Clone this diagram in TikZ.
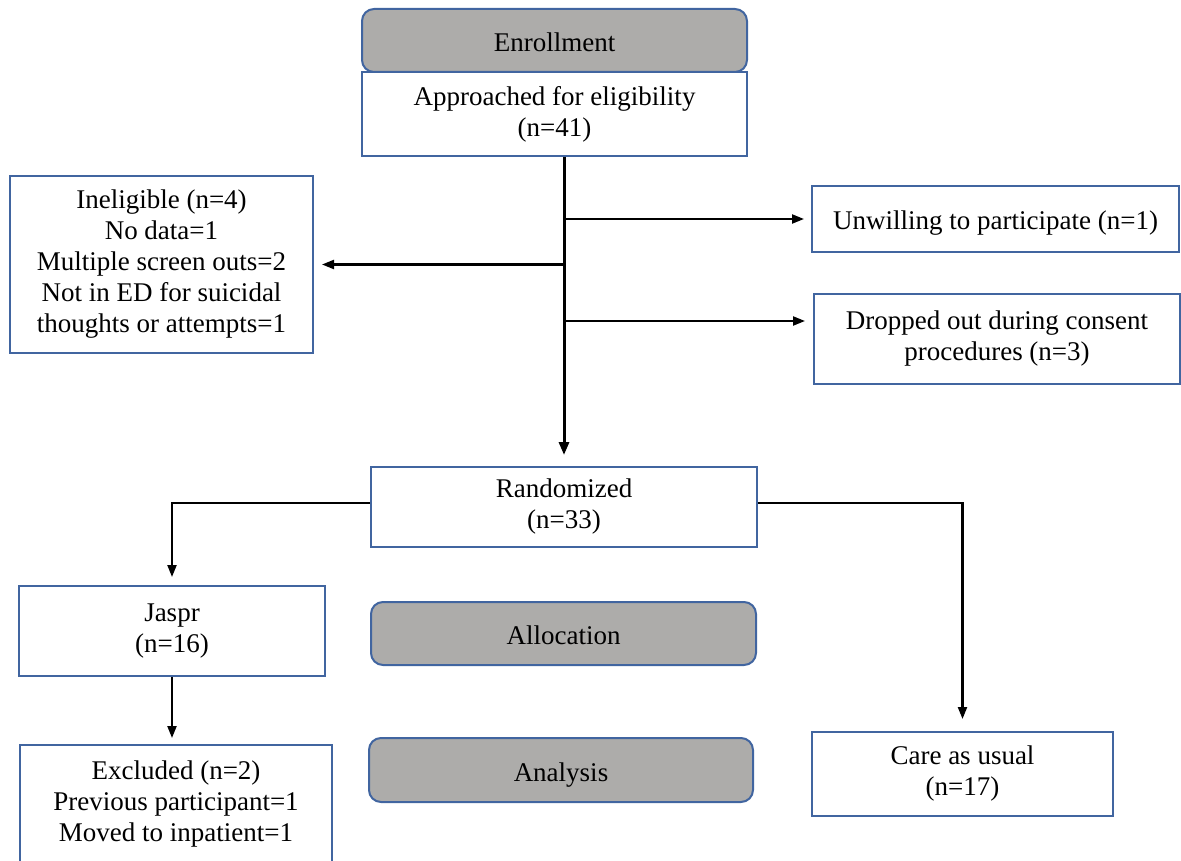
\documentclass[tikz,border=0pt]{standalone}
\usepackage{fontspec}
\setmainfont{Liberation Serif}
\usetikzlibrary{arrows.meta,calc}
\definecolor{boxblue}{RGB}{65,101,160}
\definecolor{phasegray}{RGB}{173,172,170}
\begin{document}
\begin{tikzpicture}[x=1pt,y=-1pt,
  every node/.style={font=\fontsize{27}{31}\selectfont, align=center, inner sep=0pt,
    execute at begin node={\rule{0pt}{28pt}}, execute at end node={\rule[-6pt]{0pt}{6pt}}},
  box/.style={draw=boxblue, line width=2pt, fill=white},
  phase/.style={draw=boxblue, line width=2pt, fill=phasegray, rounded corners=12pt},
  conn/.style={line width=2.2pt, -{Triangle[length=12pt,width=9pt]}},
  ]
\useasboundingbox (0,0) rectangle (1181,861);
% boxes
\node[box, minimum width=385pt, minimum height=84pt] (approached) at (554.5,114) {Approached for eligibility\\(n=41)};
\node[phase, minimum width=385pt, minimum height=63pt] (enroll) at (554.5,40.5) {Enrollment};
\node[box, minimum width=303pt, minimum height=177pt] (inel) at (161.5,264.5) {Ineligible (n=4)\\No data=1\\Multiple screen outs=2\\Not in ED for suicidal\\thoughts or attempts=1};
\node[box, minimum width=367pt, minimum height=66pt] (unwill) at (995.5,219) {Unwilling to participate (n=1)};
\node[box, minimum width=366pt, minimum height=90pt] (dropped) at (997,339) {Dropped out during consent\\procedures (n=3)};
\node[box, minimum width=386pt, minimum height=80pt] (rand) at (564,507) {Randomized\\(n=33)};
\node[box, minimum width=306pt, minimum height=90pt] (jaspr) at (172,631) {Jaspr\\(n=16)};
\node[phase, minimum width=385pt, minimum height=63pt] (alloc) at (563.5,633.5) {Allocation};
\node[box, minimum width=312pt, minimum height=119pt] (excl) at (176,804.5) {Excluded (n=2)\\Previous participant=1\\Moved to inpatient=1};
\node[phase, minimum width=384pt, minimum height=64pt] (analysis) at (561,770) {Analysis};
\node[box, minimum width=301pt, minimum height=84pt] (care) at (962.5,774) {Care as usual\\(n=17)};
% connectors
\coordinate (trunkTop) at (approached.south -| rand.north);
\coordinate (b3) at (564,321);
\coordinate (rl) at ($(rand.west)+(0,-4)$);
\coordinate (rr) at ($(rand.east)+(0,-4)$);
\draw[conn, line width=3pt, -{Triangle[length=13pt,width=10pt]}, shorten >=11pt] (trunkTop) -- (rand.north);
\draw[conn, shorten >=7pt] (trunkTop |- unwill.west) -- (unwill.west);
\draw[conn, shorten >=8pt] (trunkTop |- inel.east) -- (inel.east);
\draw[conn, shorten >=8pt] (b3) -- (b3 -| dropped.west);
\draw[conn, shorten >=8pt] (rl) -| (jaspr.north);
\draw[conn, shorten >=12pt] (rr) -| (care.north);
\draw[conn, shorten >=6pt] (jaspr.south) -- (jaspr.south |- excl.north);
\end{tikzpicture}
\end{document}
